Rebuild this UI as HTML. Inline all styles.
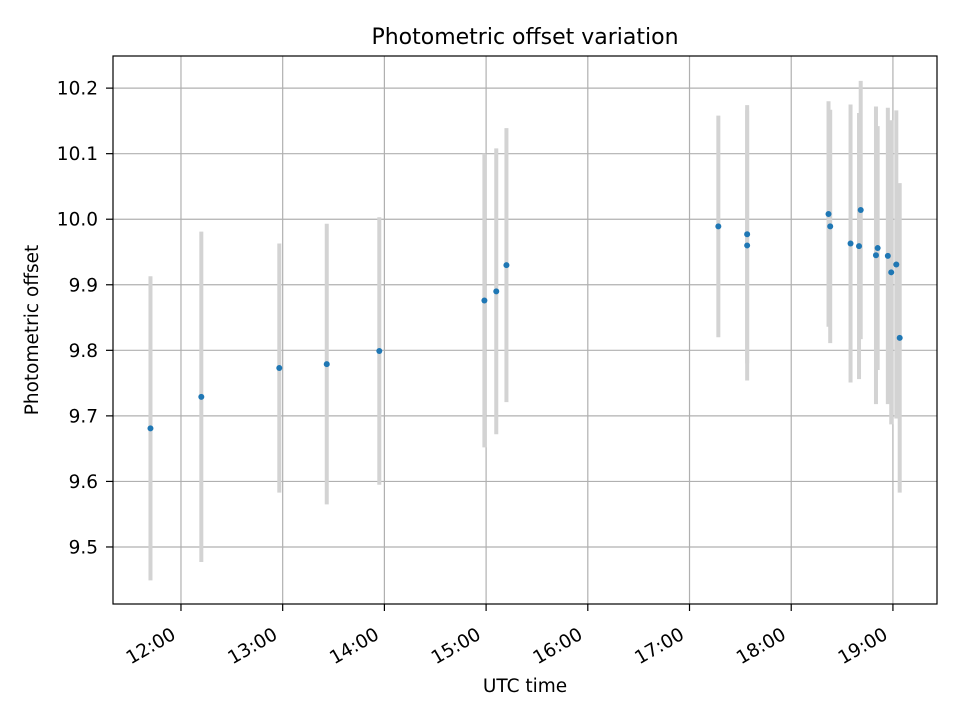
<!DOCTYPE html>
<html><head><meta charset="utf-8"><style>
body{margin:0;background:#fff}
svg text{font-family:"DejaVu Sans","Liberation Sans",sans-serif;fill:#000}
</style></head><body>
<svg id="chart" width="960" height="720" xmlns="http://www.w3.org/2000/svg">
<rect width="960" height="720" fill="#fff"/>
<g id="grid"></g>
<g id="bars"></g>
<g id="pts"></g>
<rect x="113" y="56" width="824" height="548" fill="none" stroke="#000" stroke-width="1.2"/>
<g id="axes"></g>
<text x="525" y="44" font-size="22" text-anchor="middle">Photometric offset variation</text>
<text x="525" y="692" font-size="18.5" text-anchor="middle">UTC time</text>
<text x="38" y="330" font-size="18.5" text-anchor="middle" transform="rotate(-90 38 330)">Photometric offset</text>
</svg>
<script>
const times=["11:42","12:12","12:58","13:26","13:57","14:59","15:06","15:12","17:17","17:34","17:34","18:22","18:23","18:35","18:40","18:41","18:50","18:51","18:57","18:59","19:02","19:04"];
const values=[9.681,9.729,9.773,9.779,9.799,9.876,9.890,9.930,9.989,9.977,9.960,10.008,9.989,9.963,9.959,10.014,9.945,9.956,9.944,9.919,9.931,9.819];
const errors=[0.232,0.252,0.190,0.214,0.204,0.224,0.218,0.209,0.169,0.197,0.206,0.172,0.178,0.212,0.203,0.197,0.227,0.186,0.226,0.232,0.235,0.236];
const yTicks=[9.5,9.6,9.7,9.8,9.9,10.0,10.1,10.2];
const xTickLabels=["12:00","13:00","14:00","15:00","16:00","17:00","18:00","19:00"];
const NS="http://www.w3.org/2000/svg";
const L=113,R=937,T=56,B=604;
const xMin=-40.1,xMax=446,yMin=9.413,yMax=10.249;
function toMin(s){const p=s.split(":");return (+p[0]-12)*60+(+p[1]);}
function X(m){return L+(m-xMin)/(xMax-xMin)*(R-L);}
function Y(v){return B-(v-yMin)/(yMax-yMin)*(B-T);}
function mk(t,a,parent){const e=document.createElementNS(NS,t);for(const k in a)e.setAttribute(k,a[k]);parent.appendChild(e);return e;}
const grid=document.getElementById('grid'),axes=document.getElementById('axes'),bars=document.getElementById('bars'),pts=document.getElementById('pts');
yTicks.forEach(v=>{const y=Y(v);
 let g=mk('line',{x1:L,x2:R,y1:y,y2:y,stroke:'#b0b0b0','stroke-width':1.2},grid);
 
 let t=mk('line',{x1:L-7,x2:L,y1:y,y2:y,stroke:'#000','stroke-width':1.2},axes);
 
 let tx=mk('text',{x:L-15,y:y+6.5,'font-size':18.5,'text-anchor':'end'},axes);tx.textContent=v.toFixed(1);
 
});
xTickLabels.forEach(s=>{const x=X(toMin(s));
 let g=mk('line',{x1:x,x2:x,y1:T,y2:B,stroke:'#b0b0b0','stroke-width':1.2},grid);
 
 let t=mk('line',{x1:x,x2:x,y1:B,y2:B+7,stroke:'#000','stroke-width':1.2},axes);
 
 const px=x-4,py=B+34;
 let tx=mk('text',{x:px,y:py,'font-size':18.5,'text-anchor':'end',transform:`rotate(-30 ${px} ${py})`},axes);tx.textContent=s;
 
});
times.forEach((s,i)=>{const x=X(toMin(s));
 let b=mk('line',{x1:x,x2:x,y1:Y(values[i]+errors[i]),y2:Y(values[i]-errors[i]),stroke:'#d3d3d3','stroke-width':4},bars);
 
});
times.forEach((s,i)=>{const x=X(toMin(s));
 let c=mk('circle',{cx:x,cy:Y(values[i]),r:3,fill:'#1f77b4'},pts);
 
});
</script>
</body></html>
